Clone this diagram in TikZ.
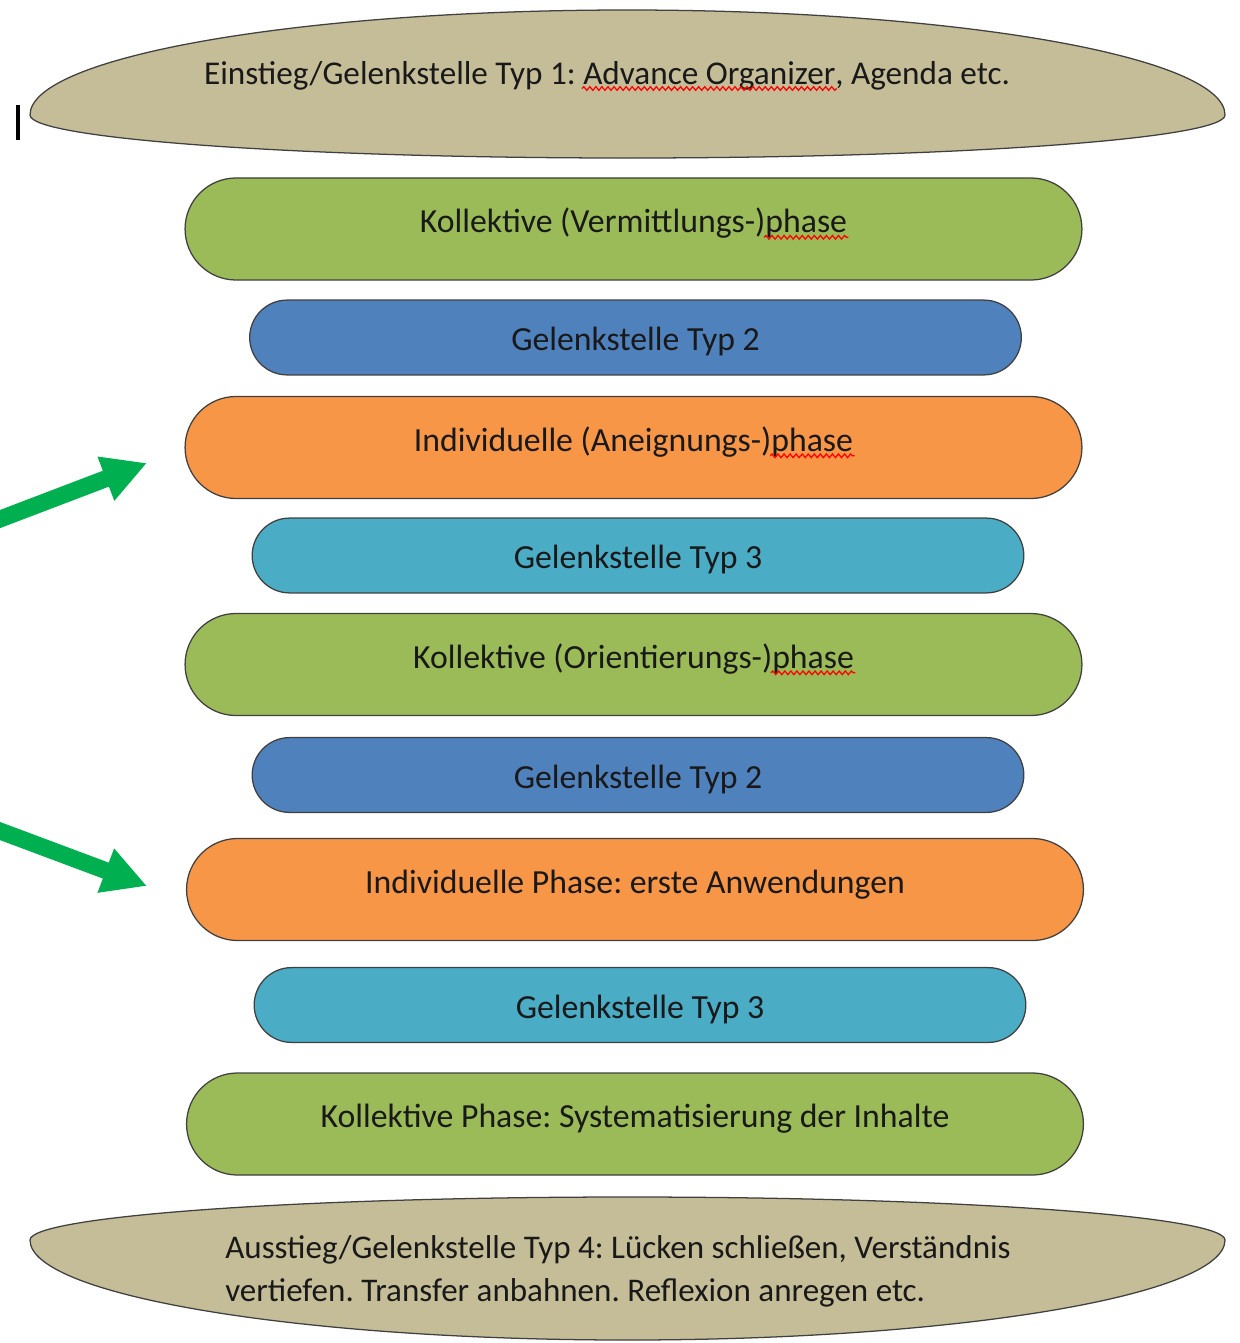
\documentclass[tikz,border=0pt]{standalone}
\usepackage{fontspec}
\setmainfont{Carlito}
\usepackage{xcolor}
\usetikzlibrary{arrows.meta,shapes.misc,decorations.pathmorphing}
\definecolor{tanfill}{HTML}{C4BD97}
\definecolor{kgreen}{HTML}{9BBB59}
\definecolor{jblue}{HTML}{4F81BD}
\definecolor{iorange}{HTML}{F79646}
\definecolor{jcyan}{HTML}{4BACC6}
\definecolor{arrowgreen}{HTML}{00B050}
\frenchspacing
\newbox\spellbox
\newcommand\spellwave[1]{\setbox\spellbox\hbox{#1}\copy\spellbox\tikz[overlay,baseline=0pt]\draw[red, line width=0.9pt, decorate, decoration={snake, amplitude=1.3pt, segment length=4.3pt}] (-\wd\spellbox-1pt,-3.2pt) -- (1pt,-3.2pt);}

\begin{document}
\begin{tikzpicture}[x=0.025cm, y=0.025cm,
    font=\fontsize{24}{30.6}\selectfont,
    phase/.style={rounded rectangle, draw=black!75, line width=0.9pt, minimum width=22.65cm, minimum height=2.55cm, text=black!90, text height=18pt, text depth=12.6pt},
    joint/.style={rounded rectangle, draw=black!75, line width=0.9pt, minimum width=19.52cm, minimum height=1.87cm, text=black!90, text height=24pt, text depth=5pt},
    lens/.style={draw=black!75, line width=0.9pt, fill=tanfill},
    bigarrow/.style={-{Triangle[length=1.1cm,width=1.1cm]}, line width=0.425cm, draw=arrowgreen}
]
\useasboundingbox (0,0) rectangle (1240,-1343);

% Entry and exit lenses
\draw[lens] (30,-115) arc[start angle=180, end angle=0, x radius=597.5, y radius=105]
    arc[start angle=0, end angle=-180, x radius=597.5, y radius=43] -- cycle;
\node[anchor=base, text=black!90, font=\fontsize{23.6}{30.6}\selectfont] (einstieg) at (607,-84) {Einstieg/Gelenkstelle Typ 1: \spellwave{Advance Organizer}, Agenda etc.};

\draw[lens] (30,-1240) arc[start angle=180, end angle=0, x radius=597.5, y radius=43]
    arc[start angle=0, end angle=-180, x radius=597.5, y radius=100] -- cycle;
\node[anchor=north west, inner sep=0pt, align=left, text=black!90, font=\fontsize{23.5}{30.6}\selectfont] (ausstieg) at (225,-1235) {Ausstieg/Gelenkstelle Typ 4: Lücken schließen, Verständnis\\vertiefen. Transfer anbahnen. Reflexion anregen etc.};

% Text cursor
\draw[line width=3pt] (18,-105) -- (18,-140);

% Phases and joints
\node[phase, fill=kgreen] (koll1) at (633.5,-229) {Kollektive (Vermittlungs-)\spellwave{phase}};
\node[joint, fill=jblue] (typ2a) at (635.5,-337.5) {Gelenkstelle Typ 2};
\node[phase, fill=iorange] (indiv1) at (633.5,-447.5) {Individuelle (Aneignungs-)\spellwave{phase}};
\node[joint, fill=jcyan] (typ3a) at (638,-555.5) {Gelenkstelle Typ 3};
\node[phase, fill=kgreen] (koll2) at (633.5,-664.5) {Kollektive (Orientierungs-)\spellwave{phase}};
\node[joint, fill=jblue] (typ2b) at (638,-775) {Gelenkstelle Typ 2};
\node[phase, fill=iorange] (indiv2) at (635,-889.5) {Individuelle Phase: erste Anwendungen};
\node[joint, fill=jcyan] (typ3b) at (640,-1005) {Gelenkstelle Typ 3};
\node[phase, fill=kgreen] (koll3) at (635,-1124) {Kollektive Phase: Systematisierung der Inhalte};

% Pointer arrows
\coordinate (arrowAstart) at (-30,-530.5);
\coordinate (arrowAend) at (147,-463);
\coordinate (arrowBstart) at (-30,-819.8);
\coordinate (arrowBend) at (147,-886);
\draw[bigarrow] (arrowAstart) -- (arrowAend);
\draw[bigarrow] (arrowBstart) -- (arrowBend);
\end{tikzpicture}
\end{document}
